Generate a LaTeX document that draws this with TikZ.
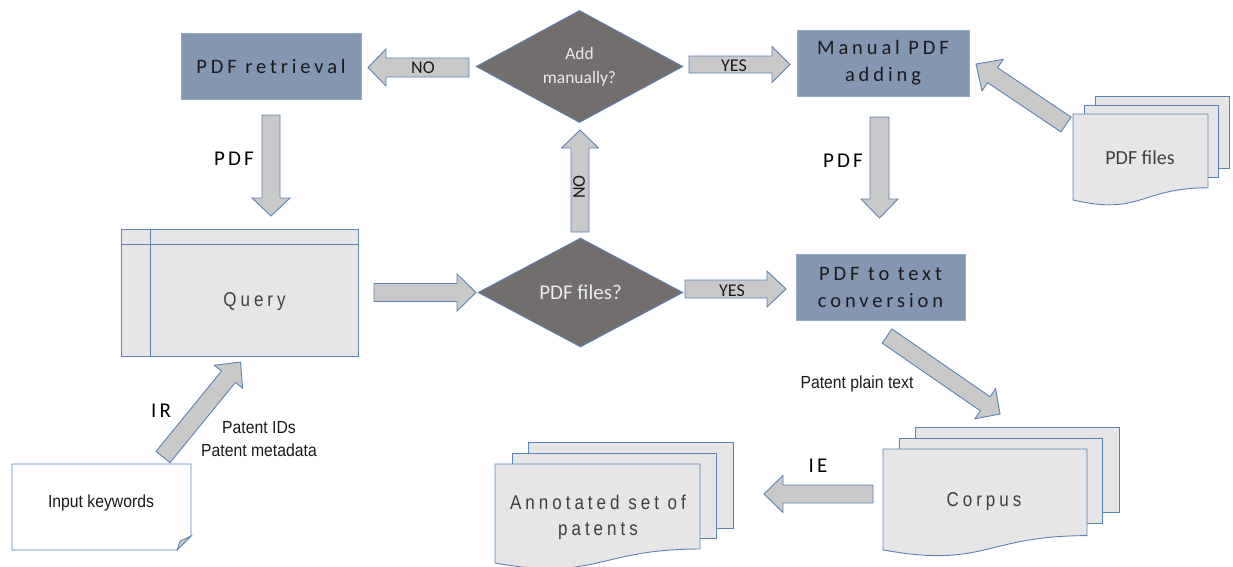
\documentclass[tikz,border=0pt]{standalone}
\usepackage{fontspec}
\setmainfont{Carlito}
\newfontfamily\boxfont[LetterSpace=19]{Carlito}
\newfontfamily\tagfont[LetterSpace=15]{Carlito}
\newfontfamily\condfont[FakeStretch=0.9]{Liberation Sans}
\newfontfamily\spacedcond[FakeStretch=0.85,LetterSpace=20]{Liberation Sans}
\usetikzlibrary{calc,shapes.geometric}

\definecolor{stepfill}{HTML}{8497B0}
\definecolor{stepline}{HTML}{93AACB}
\definecolor{decfill}{HTML}{736E6E}
\definecolor{edgeblue}{HTML}{5B83B3}
\definecolor{arrowfill}{HTML}{C9C9C9}
\definecolor{pagefill}{HTML}{E6E6E6}
\definecolor{labelgray}{HTML}{3F3F3F}
\definecolor{inkdark}{HTML}{1A1A1A}

\tikzset{
  stepbox/.style={rectangle, fill=stepfill, draw=stepline, line width=1pt,
    inner sep=0pt, align=center, text=inkdark,
    font=\boxfont\fontsize{20.5}{27}\selectfont},
  decision/.style={diamond, fill=decfill, draw=edgeblue, line width=0.8pt,
    inner sep=0pt, align=center, text=white!92!black},
  blockarrowstyle/.style={fill=arrowfill, draw=edgeblue, line width=0.9pt, line join=miter},
  pagestyle/.style={fill=pagefill, draw=edgeblue, line width=0.9pt},
  flowlabel/.style={font=\tagfont\fontsize{21}{25}\selectfont, text=black, inner sep=0pt},
  armlabel/.style={font=\fontsize{18}{22}\selectfont, text=inkdark, inner sep=0pt},
  notelabel/.style={font=\condfont\fontsize{17.5}{23}\selectfont, text=inkdark, inner sep=0pt, align=center},
  doclabel/.style={font=\spacedcond\fontsize{20}{26}\selectfont, text=labelgray, inner sep=0pt, align=center},
}

% block arrow: tail, tip, shaft half width, head half width, head length
\newcommand{\blockarrow}[5]{%
  \path ($(#2)!#5!(#1)$) coordinate (ba-base);
  \draw[blockarrowstyle]
    ($(#1)!#3!90:(#2)$) -- ($(ba-base)!#3!90:(#2)$) -- ($(ba-base)!#4!90:(#2)$)
    -- (#2) -- ($(ba-base)!#4!-90:(#2)$) -- ($(ba-base)!#3!-90:(#2)$)
    -- ($(#1)!#3!-90:(#2)$) -- cycle;
}

% flowchart document page with a wavy lower edge: x1, y1, x2, height
\newcommand{\wavepage}[4]{%
  \draw[pagestyle] (#1,#2) -- (#3,#2) -- (#3,{#2+0.802*#4})
    .. controls ({(#1+#3)/2},{#2+0.802*#4}) and ({(#1+#3)/2},{#2+1.107*#4})
    .. (#1,{#2+0.934*#4}) -- cycle;
}

\begin{document}
\begin{tikzpicture}[x=1pt,y=-1pt]
\useasboundingbox (0,0) rectangle (1233,566);

% ---- process boxes ----
\node[stepbox, minimum width=180pt, minimum height=66pt] (retrieval) at (271,66) {PDF retrieval};
\node[stepbox, minimum width=172pt, minimum height=66pt] (manual) at (883,63) {Manual PDF\\adding};
\node[stepbox, minimum width=169pt, minimum height=66pt] (convert) at (880.5,287) {PDF to text\\conversion};

% ---- decisions ----
\node[decision, minimum width=207pt, minimum height=109pt,
      font=\fontsize{17.5}{24}\selectfont] (addq) at (579.5,66.5) {Add\\manually?};
\node[decision, minimum width=205pt, minimum height=109pt,
      font=\fontsize{21}{25}\selectfont] (filesq) at (580.5,292.5) {PDF files?};

% ---- query form ----
\node[rectangle, fill=pagefill, draw=edgeblue, line width=0.9pt,
      minimum width=237pt, minimum height=127pt] (query) at (239.5,292.5) {};
\draw[edgeblue, line width=0.9pt] ([yshift=-16pt]query.north west) -- ([yshift=-16pt]query.north east);
\draw[edgeblue, line width=0.9pt] ([xshift=30pt]query.north west) -- ([xshift=30pt]query.south west);
\node[doclabel] (querytext) at (254.5,302) {Query};

% ---- input keywords note ----
\draw[fill=white, draw=edgeblue, line width=0.9pt]
  (12,464) -- (191,464) -- (191,536) -- (177,550) -- (12,550) -- cycle;
\draw[fill=arrowfill, draw=edgeblue, line width=0.8pt] (191,536) -- (180,541) -- (177,550) -- cycle;
\node[notelabel] (keywords) at (101,503) {Input keywords};

% ---- PDF files stack ----
\draw[pagestyle] (1095,96) rectangle (1229,168);
\draw[pagestyle] (1084,105) rectangle (1218,177);
\wavepage{1073}{114}{1208}{92}
\node[font=\fontsize{20}{24}\selectfont, text=labelgray, inner sep=0pt] (pdffiles) at (1140,158) {PDF files};

% ---- corpus stack ----
\draw[pagestyle] (915,427) rectangle (1119,512);
\draw[pagestyle] (899,438) rectangle (1102,523);
\wavepage{883}{449}{1087}{108}
\node[doclabel] (corpus) at (984,502) {Corpus};

% ---- annotated stack ----
\draw[pagestyle] (528,442) rectangle (733,528);
\draw[pagestyle] (512,453) rectangle (716,538);
\wavepage{495}{464}{700}{106}
\node[doclabel] (annotated) at (598,517) {Annotated set of\\patents};

% ---- connector end points ----
\coordinate (noL-tail) at (469,67.5);   \coordinate (noL-tip) at (368,67.5);
\coordinate (pdfL-tail) at (271,115);   \coordinate (pdfL-tip) at (271,216);
\coordinate (qry-tail) at (374,292.5);  \coordinate (qry-tip) at (476,292.5);
\coordinate (yesB-tail) at (685,289);   \coordinate (yesB-tip) at (786,289);
\coordinate (noU-tail) at (580,232);    \coordinate (noU-tip) at (580,130);
\coordinate (yesT-tail) at (689,64.5);  \coordinate (yesT-tip) at (790,64.5);
\coordinate (pdfR-tail) at (879.5,117); \coordinate (pdfR-tip) at (879.5,218);
\coordinate (files-tail) at (1066,124.5); \coordinate (files-tip) at (976,64);
\coordinate (txt-tail) at (887,336);    \coordinate (txt-tip) at (1000,414);
\coordinate (ie-tail) at (873,494);     \coordinate (ie-tip) at (764,494);
\coordinate (ir-tail) at (163,457);     \coordinate (ir-tip) at (240.5,362);

% ---- block arrows ----
\blockarrow{noL-tail}{noL-tip}{9.5pt}{18.5pt}{18pt}
\blockarrow{pdfL-tail}{pdfL-tip}{9pt}{19pt}{18pt}
\blockarrow{qry-tail}{qry-tip}{9pt}{18.5pt}{19pt}
\blockarrow{yesB-tail}{yesB-tip}{9pt}{18pt}{19pt}
\blockarrow{noU-tail}{noU-tip}{9pt}{18.5pt}{18pt}
\blockarrow{yesT-tail}{yesT-tip}{8.5pt}{18pt}{18pt}
\blockarrow{pdfR-tail}{pdfR-tip}{9.5pt}{18.5pt}{19pt}
\blockarrow{files-tail}{files-tip}{9pt}{19pt}{20pt}
\blockarrow{txt-tail}{txt-tip}{8.6pt}{18.3pt}{18pt}
\blockarrow{ie-tail}{ie-tip}{9pt}{18.5pt}{19pt}
\blockarrow{ir-tail}{ir-tip}{9pt}{18.2pt}{19pt}

% ---- arrow labels ----
\node[armlabel] (lab-noL) at (423,68) {NO};
\node[armlabel] (lab-yesT) at (734,66) {YES};
\node[armlabel] (lab-yesB) at (732,291) {YES};
\node[armlabel, rotate=90] (lab-noU) at (579,187) {NO};
\node[flowlabel] (lab-pdfL) at (234,159) {PDF};
\node[flowlabel] (lab-pdfR) at (843,161) {PDF};
\node[flowlabel] (lab-ir) at (161,411) {IR};
\node[flowlabel] (lab-ie) at (818,466) {IE};
\node[notelabel] (lab-ids) at (259,439.5) {Patent IDs\\Patent metadata};
\node[notelabel] (lab-plain) at (857,384) {Patent plain text};

\end{tikzpicture}
\end{document}
